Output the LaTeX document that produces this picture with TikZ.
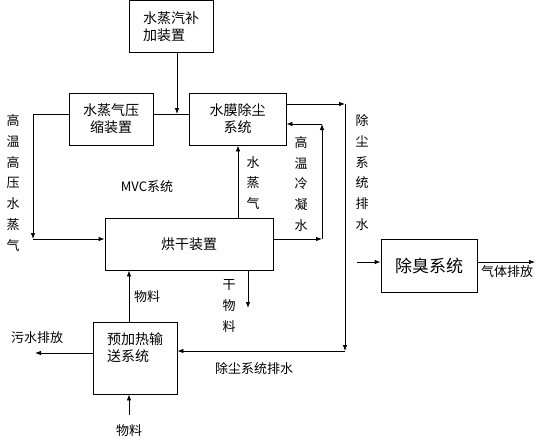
\documentclass[tikz,border=0pt]{standalone}
\usepackage{fontspec}
\newfontfamily\cjk{Noto Sans CJK SC}
\usetikzlibrary{arrows.meta,calc}
\begin{document}
\begin{tikzpicture}[x=1pt,y=-1pt,
 box/.style={draw, line width=0.8pt, inner sep=0pt, align=center, font=\cjk\fontsize{14}{17}\selectfont},
 lbl/.style={inner sep=0pt, font=\cjk\fontsize{13}{15}\selectfont},
 vlbl/.style={inner sep=0pt, align=center, font=\cjk\fontsize{13}{20.7}\selectfont},
 flow/.style={draw, line width=0.8pt, -{Latex[length=6pt,width=4.5pt]}},
 ln/.style={draw, line width=0.8pt}]
\useasboundingbox (0,0) rectangle (540,440);
% boxes
\node[box, align=left, minimum width=84pt, minimum height=52pt] (supp) at (171,26.5) {水蒸汽补\\加装置};
\node[box, minimum width=84pt, minimum height=52pt] (comp) at (111,119) {水蒸气压\\缩装置};
\node[box, minimum width=97pt, minimum height=52pt] (film) at (237.5,119) {水膜除尘\\系统};
\node[box, minimum width=168pt, minimum height=52pt] (dryer) at (189,244) {烘干装置};
\node[box, minimum width=96pt, minimum height=53pt, font=\cjk\fontsize{17}{20}\selectfont] (deo) at (429,265.5) {除臭系统};
\node[box, align=left, minimum width=84pt, minimum height=72pt] (pre) at (135,358) {预加热输\\送系统\\[4pt]};
% coordinates
\coordinate (J) at (177,114);
\coordinate (LT) at (33,114);
\coordinate (LB) at (33,239);
\coordinate (DT) at (345,104);
\coordinate (DB) at (345,351);
\coordinate (CB) at (322,239);
\coordinate (CT) at (322,124);
\coordinate (S) at (238,0);
\coordinate (DM) at (248,308);
\coordinate (M) at (129,415);
\coordinate (SW) at (35,353);
\coordinate (DI) at (357,262);
\coordinate (GO) at (535,262);
% connectors
\draw[flow] (supp.south -| J) -- (J);
\draw[ln] (comp.east |- J) -- (film.west |- J);
\draw[ln] (comp.west |- LT) -- (LT);
\draw[flow] (LT) -- (LB);
\draw[flow] (LB) -- (dryer.west |- LB);
\draw[flow] (film.east |- DT) -- (DT);
\draw[flow] (DT) -- (DB);
\draw[flow] (DB) -- (pre.east |- DB);
\draw[flow] (dryer.east |- CB) -- (CB);
\draw[flow] (CB) -- (CT);
\draw[flow] (CT) -- (film.east |- CT);
\draw[flow] (dryer.north -| S) -- (film.south -| S);
\draw[flow] (dryer.south -| DM) -- (DM);
\draw[flow] (pre.north -| M) -- (dryer.south -| M);
\draw[flow] (M) -- (pre.south -| M);
\draw[flow] (pre.west |- SW) -- (SW);
\draw[flow] (DI) -- (deo.west |- DI);
\draw[flow] (deo.east |- GO) -- (GO);
% labels
\node[vlbl] (l1) at (13,183) {高\\温\\高\\压\\水\\蒸\\气};
\node[lbl] (l2) at (147,187) {MVC系统};
\node[vlbl] (l3) at (253,183) {水\\蒸\\气};
\node[vlbl] (l4) at (301,184) {高\\温\\冷\\凝\\水};
\node[vlbl] (l5) at (362,172.5) {除\\尘\\系\\统\\排\\水};
\node[vlbl] (l6) at (229,306) {干\\物\\料};
\node[lbl] (l7) at (147,297) {物料};
\node[lbl] (l8) at (129,431) {物料};
\node[lbl] (l9) at (37,338) {污水排放};
\node[lbl] (l10) at (254,369) {除尘系统排水};
\node[lbl] (l11) at (507,272) {气体排放};
\end{tikzpicture}
\end{document}
